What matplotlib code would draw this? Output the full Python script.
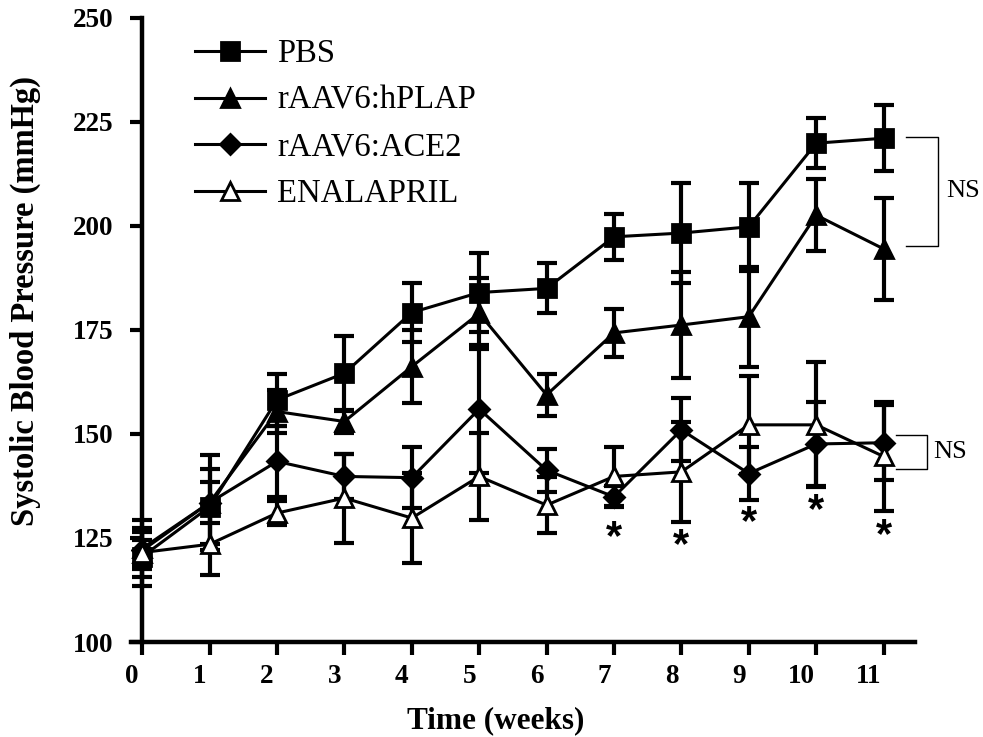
import matplotlib
matplotlib.use('Agg')
import matplotlib.pyplot as plt
import matplotlib.transforms as mtransforms

# 数据
weeks = [0, 1, 2, 3, 4, 5, 6, 7, 8, 9, 10, 11]
week_labels = ['0', '1', '2', '3', '4', '5', '6', '7', '8', '9', '10', '11']
y_ticks = [100, 125, 150, 175, 200, 225, 250]

pbs = [120.5, 132.5, 158.2, 164.6, 179.2, 184.0, 185.0, 197.4, 198.3, 199.8, 219.9, 221.1]
pbs_err = [7, 9, 6.2, 9, 7, 9.5, 6, 5.5, 12, 10.5, 6, 8]

hplap = [122.5, 133.5, 155.4, 153.0, 166.2, 179.0, 159.4, 174.3, 176.2, 178.2, 202.6, 194.5]
hplap_err = [6.8, 11.5, 5.2, 2.8, 8.7, 8.5, 5, 5.7, 12.7, 12, 8.7, 12.3]

ace2 = [122.0, 133.5, 143.4, 139.8, 139.5, 156.0, 141.3, 134.9, 151.0, 140.5, 147.6, 147.9]
ace2_err = [4.5, 5, 8.5, 5.5, 7.4, 15.4, 5.2, 2.5, 7.6, 6.4, 10, 9]

enal = [121.5, 123.5, 131.0, 134.6, 129.8, 139.8, 132.9, 139.8, 140.9, 152.2, 152.2, 144.6]
enal_err = [3, 7.4, 2.8, 10.7, 10.9, 10.5, 6.8, 7, 12, 11.7, 15, 13]

# 显著性星号 (周, 位置)
star_weeks = [7, 8, 9, 10, 11]
star_y = [126.5, 124.5, 130.0, 133.0, 127.0]

# NS 括号
ns_top = [221.5, 195.2]
ns_bottom = [149.8, 141.5]

serif = 'Liberation Serif'

fig = plt.figure(figsize=(9.83, 7.37), dpi=100)
ax = fig.add_axes([0.1330, 0.1289, 0.7981, 0.8467])

series = [
    (pbs, pbs_err, 's', 'black', 13, 'PBS'),
    (hplap, hplap_err, '^', 'black', 13, 'rAAV6:hPLAP'),
    (ace2, ace2_err, 'D', 'black', 10, 'rAAV6:ACE2'),
    (enal, enal_err, '^', 'white', 13, 'ENALAPRIL'),
]

handles = []
for vals, errs, mk, fc, ms, lab in series:
    ax.errorbar(weeks, vals, yerr=errs, fmt='none', ecolor='black',
                elinewidth=3, capsize=7, capthick=3, zorder=2)
    ln, = ax.plot(weeks, vals, color='black', lw=2.2, marker=mk, markersize=ms,
                  markerfacecolor=fc, markeredgecolor='black', markeredgewidth=2,
                  zorder=3, label=lab)
    handles.append(ln)

# 星号
for w, y in zip(star_weeks, star_y):
    ax.annotate('*', (w, y), xytext=(0, -12.5), textcoords='offset points',
                ha='center', va='baseline', fontsize=30, fontweight='bold',
                family='Liberation Sans')

# NS 括号
for (yt, yb), (x0, x1), tx in [(ns_top, (11.335, 11.80), 11.93),
                                (ns_bottom, (11.18, 11.64), 11.73)]:
    ax.plot([x0, x1, x1, x0], [yt, yt, yb, yb], color='black', lw=1.0,
            clip_on=False)
    ax.text(tx, (yt + yb) / 2, 'NS', ha='left', va='center', fontsize=19,
            family=serif, clip_on=False)

ax.set_xlim(-0.17, 11.47)
ax.set_ylim(100, 250)
ax.set_xticks(weeks)
ax.set_xticklabels(week_labels)
ax.set_yticks(y_ticks)

for s in ['top', 'right']:
    ax.spines[s].set_visible(False)
ax.spines['left'].set_position(('data', 0))
ax.spines['left'].set_linewidth(3.2)
ax.spines['bottom'].set_linewidth(3.2)

ax.tick_params(axis='both', direction='out', length=9, width=3, labelsize=19.5)
ax.tick_params(axis='x', pad=7)
ax.tick_params(axis='y', pad=12)
for t in ax.get_xticklabels() + ax.get_yticklabels():
    t.set_fontfamily(serif)
    t.set_fontweight('bold')

# x 刻度标签稍微左移
for t in ax.get_xticklabels():
    shift = -15 if len(t.get_text()) > 1 else -10
    t.set_transform(t.get_transform() + mtransforms.ScaledTranslation(shift / 100, 0, fig.dpi_scale_trans))

fig.text(25 / 983, 0.5916, 'Systolic Blood Pressure (mmHg)', rotation=90,
         ha='center', va='center', fontsize=23.5, fontweight='bold', family=serif)
fig.text(496 / 983, 0.0122, 'Time (weeks)', ha='center', va='baseline',
         fontsize=22.5, fontweight='bold', family=serif)

ax.legend(handles=handles, loc='upper left', bbox_to_anchor=(195 / 983, 1 - 39 / 737),
          bbox_transform=fig.transFigure, frameon=False, borderpad=0, borderaxespad=0,
          prop={'family': serif, 'size': 23.5}, handlelength=2.15, handletextpad=0.37,
          labelspacing=0.49)

plt.savefig('out.png', dpi=100)
